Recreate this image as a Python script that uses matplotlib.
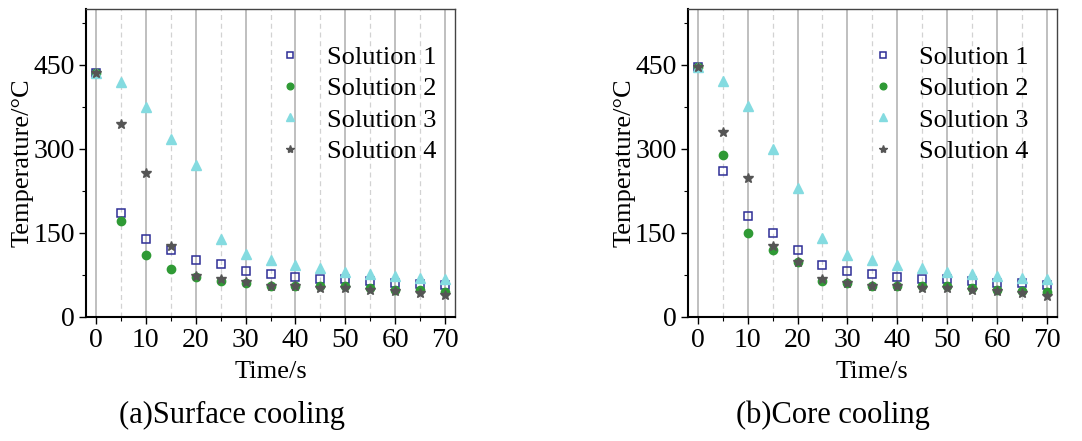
import matplotlib
matplotlib.use("Agg")
import matplotlib.pyplot as plt
from matplotlib.ticker import MultipleLocator

plt.rcParams['font.family'] = ['Liberation Serif', 'DejaVu Serif']
plt.rcParams['mathtext.fontset'] = 'stix'

time_s = [0, 5, 10, 15, 20, 25, 30, 35, 40, 45, 50, 55, 60, 65, 70]
series_names = ["Solution 1", "Solution 2", "Solution 3", "Solution 4"]

surface_s1 = [435, 185, 139, 119, 102, 94, 83, 76, 71, 68, 67, 65, 61, 59, 58]
surface_s2 = [435, 172, 110, 85, 72, 65, 61, 56, 56, 55, 55, 52, 49, 48, 44]
surface_s3 = [435, 420, 375, 318, 272, 139, 112, 102, 92, 87, 81, 77, 74, 69, 68]
surface_s4 = [435, 344, 258, 127, 74, 68, 62, 56, 55, 52, 51, 49, 47, 43, 39]

core_s1 = [446, 260, 180, 150, 120, 93, 83, 76, 71, 68, 68, 65, 61, 60, 58]
core_s2 = [446, 290, 150, 119, 99, 65, 61, 56, 56, 55, 55, 51, 49, 47, 44]
core_s3 = [446, 421, 376, 300, 230, 141, 111, 102, 92, 87, 81, 76, 73, 69, 68]
core_s4 = [446, 330, 249, 126, 99, 68, 61, 56, 55, 51, 51, 49, 47, 43, 38]

captions = ["(a)Surface cooling", "(b)Core cooling"]

styles = [
    dict(marker='s', mfc='none', mec='#2e2e96', mew=1.1, ms=5.5, color='#2e2e96'),
    dict(marker='o', mfc='#2f9a35', mec='#2f9a35', ms=6, color='#2f9a35'),
    dict(marker='^', mfc='#84dbe0', mec='#84dbe0', ms=7, color='#84dbe0'),
    dict(marker='*', mfc='#555555', mec='#555555', ms=7.5, color='#555555'),
]

fig = plt.figure(figsize=(10.82, 4.41), dpi=100)
ax_a = fig.add_axes([0.0795, 0.2812, 0.341, 0.6984])
ax_b = fig.add_axes([0.6356, 0.2812, 0.3413, 0.6984])

datasets = [
    (ax_a, [surface_s1, surface_s2, surface_s3, surface_s4], 0.482),
    (ax_b, [core_s1, core_s2, core_s3, core_s4], 0.456),
]

for ax, series, legx in datasets:
    ax.set_xlim(-2, 72)
    ax.set_ylim(0, 550)
    ax.xaxis.set_major_locator(MultipleLocator(10))
    ax.xaxis.set_minor_locator(MultipleLocator(5))
    ax.yaxis.set_major_locator(MultipleLocator(150))
    ax.yaxis.set_minor_locator(MultipleLocator(75))
    ax.grid(True, which='major', axis='x', color='#b4b4b4', lw=1.2, ls='-')
    ax.grid(True, which='minor', axis='x', color='#d2d2d2', lw=0.9, ls=(0, (4, 3)))
    ax.set_axisbelow(True)
    for name, vals, st in zip(series_names, series, styles):
        ax.plot(time_s, vals, ls='none', label=name, **st)
    for side in ['left', 'bottom']:
        ax.spines[side].set_linewidth(1.5)
        ax.spines[side].set_color('black')
    for side in ['top', 'right']:
        ax.spines[side].set_linewidth(1.0)
        ax.spines[side].set_color('#444444')
    ax.tick_params(axis='both', which='major', direction='out', length=5, width=1.0,
                   labelsize=20, top=False, right=False, pad=3)
    ax.tick_params(axis='both', which='minor', direction='out', length=3, width=0.8,
                   top=False, right=False)
    ax.set_ylabel("Temperature/°C", fontsize=19, labelpad=0)
    ax.set_xlabel("Time/s", fontsize=19, labelpad=6)
    leg = ax.legend(loc='upper left', bbox_to_anchor=(legx, 0.925), frameon=False,
                    fontsize=19, markerscale=0.8, handlelength=1.0,
                    handletextpad=0.9, labelspacing=0.3, borderpad=0)

fig.text(232 / 1082, 1 - 415 / 441, captions[0], ha='center', va='center', fontsize=22)
fig.text(833 / 1082, 1 - 415 / 441, captions[1], ha='center', va='center', fontsize=22)

fig.savefig("out.png", dpi=100)
